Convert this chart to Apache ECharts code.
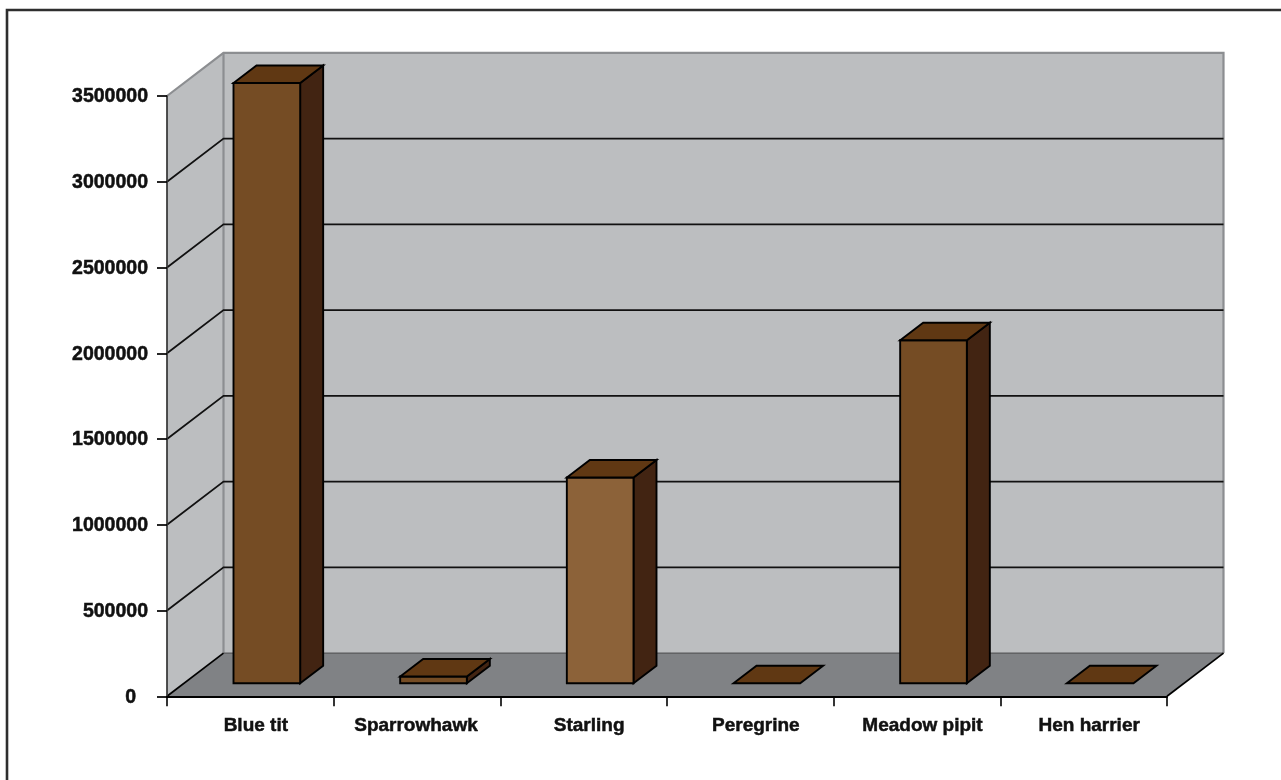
<!DOCTYPE html>
<html><head><meta charset="utf-8">
<style>html,body{margin:0;padding:0;background:#fff}#c{width:1281px;height:780px}</style>
<script src="https://cdn.jsdelivr.net/npm/echarts@6/dist/echarts.min.js"></script>
</head><body><div id="c"></div>
<script>
const categories = ['Blue tit','Sparrowhawk','Starling','Peregrine','Meadow pipit','Hen harrier'];
const values = [3500000,40000,1200000,0,2000000,0];
const yTicks = [0,500000,1000000,1500000,2000000,2500000,3000000,3500000];
const yMax = 3500000, yStep = 500000;

const WALL='#bcbec0', FLOOR='#808285', EDGE='#8c8e91', INK='#000';
const DX=56.5, DY=-43.2;
const BX=16.5, BY=-13;    // bar front-plane offset into the depth
const PX=23, PY=-17.5;    // bar depth
const BAR_COLORS=['#754c24','#754c24','#8c6239','#754c24','#754c24','#754c24'];
const TOP='#603813', SIDE='#422412';

const chart = echarts.init(document.getElementById('c'),null,{renderer:'canvas'});
const poly=(pts,fill,stroke,w)=>({type:'polygon',shape:{points:pts},style:{fill:fill,stroke:stroke||null,lineWidth:w||0,lineJoin:'miter'}});
const line=(pts,stroke,w)=>({type:'polyline',shape:{points:pts},style:{fill:null,stroke:stroke,lineWidth:w}});

function renderWalls(params,api){
  const b=params.coordSys, x0=b.x, x1=b.x+b.width, yT=b.y, yB=b.y+b.height;
  return {type:'group',children:[
    poly([[x0,yB],[x0+DX,yB+DY],[x0+DX,yT+DY],[x0,yT]],WALL),
    poly([[x0+DX,yB+DY],[x1+DX,yB+DY],[x1+DX,yT+DY],[x0+DX,yT+DY]],WALL),
    poly([[x0,yB],[x1,yB],[x1+DX,yB+DY],[x0+DX,yB+DY]],FLOOR),
    line([[x0,yT],[x0+DX,yT+DY],[x1+DX,yT+DY],[x1+DX,yB+DY]],EDGE,2.2),
    line([[x0+DX,yT+DY],[x0+DX,yB+DY]],EDGE,2.2),
    line([[x0+DX,yB+DY],[x1+DX,yB+DY]],'#58595b',1.4),
    line([[x0,yB],[x0+DX,yB+DY]],INK,1.7),
    line([[x1,yB],[x1+DX,yB+DY]],INK,1.7)
  ]};
}
function renderGrid(params,api){
  const v=api.value(0); const b=params.coordSys;
  if(v===0||v===yMax) return {type:'group',children:[]};
  const y=api.coord([0,v])[1];
  return line([[b.x,y],[b.x+DX,y+DY],[b.x+b.width+DX,y+DY]],'#111',1.8);
}
function renderBar(params,api){
  const p=api.coord([api.value(0),api.value(1)]);
  const base=api.coord([api.value(0),0]);
  const w=api.size([1,0])[0]*0.4;
  const l=p[0]-w/2+BX, r=l+w, t=p[1]+BY, f=base[1]+BY;
  const s=INK, lw=1.9;
  const kids=[];
  if(f-t>0.5){
    kids.push(poly([[r,f],[r+PX,f+PY],[r+PX,t+PY],[r,t]],SIDE,s,lw));
    kids.push(poly([[l,t],[r,t],[r,f],[l,f]],BAR_COLORS[params.dataIndex],s,lw));
  }
  kids.push(poly([[l,t],[r,t],[r+PX,t+PY],[l+PX,t+PY]],TOP,s,lw));
  return {type:'group',children:kids};
}

const FONT='"Liberation Sans",Arial,sans-serif';
const txt=(size,padding)=>({color:'#111',fontFamily:FONT,fontWeight:'bold',fontSize:size,textBorderColor:'#111',textBorderWidth:0.5,padding:padding});
chart.setOption({
  animation:false,
  backgroundColor:'#fff',
  graphic:[{type:'rect',z:-1,shape:{x:7,y:10,width:1320,height:820},style:{fill:'#fff',stroke:'#2e2e2e',lineWidth:2.6}}],
  grid:{left:167,right:114,top:96,bottom:83.7,containLabel:false},
  xAxis:{type:'category',data:categories,z:10,
    axisLine:{show:true,lineStyle:{color:INK,width:1.9}},
    axisTick:{show:true,length:10,alignWithLabel:false,lineStyle:{color:INK,width:1.6}},
    axisLabel:{fontFamily:FONT,fontWeight:'bold',fontSize:19,margin:20,interval:0,
      formatter:(v,i)=> i===1 ? `{near|${v}}` : `{far|${v}}`,
      rich:{near:txt(19,[0,2,0,0]),far:txt(19,[0,0,0,11])}},
    splitLine:{show:false}},
  yAxis:{type:'value',min:0,max:yMax,interval:yStep,z:10,
    axisLine:{show:true,lineStyle:{color:'#333',width:1.7}},
    axisTick:{show:true,length:10,lineStyle:{color:INK,width:1.7}},
    axisLabel:{fontFamily:FONT,fontWeight:'bold',fontSize:19.5,margin:19,
      formatter:v=> v===0 ? `{zero|${v}}` : `{num|${v}}`,
      rich:{zero:txt(19.5,[2,12,0,0]),num:txt(19.5,[2,0,0,0])}},
    splitLine:{show:false}},
  series:[
    {type:'custom',name:'walls',clip:false,z:1,silent:true,data:[[0]],encode:{x:0,y:0},renderItem:renderWalls},
    {type:'custom',name:'grid',clip:false,z:2,silent:true,data:yTicks.map(v=>[v]),encode:{y:0},renderItem:renderGrid},
    {type:'custom',name:'birds',clip:false,z:3,data:values.map((v,i)=>[i,v]),encode:{x:0,y:1},renderItem:renderBar}
  ]
});
</script></body></html>
